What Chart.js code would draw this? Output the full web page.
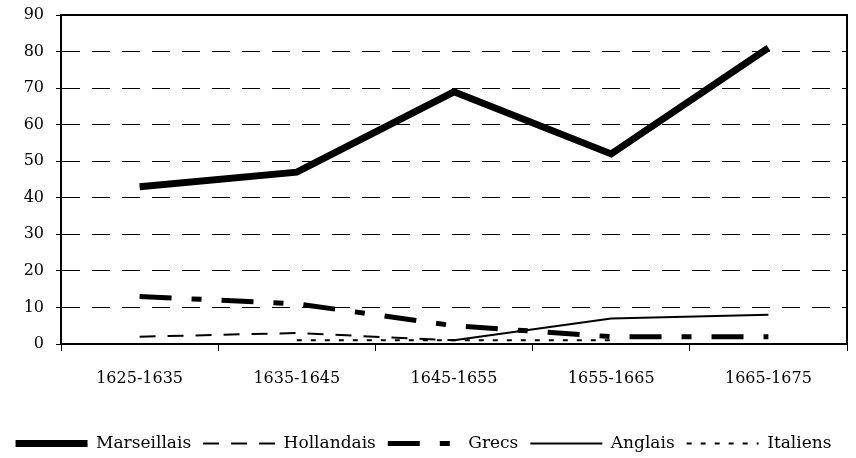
<!DOCTYPE html>
<html>
<head>
<meta charset="utf-8">
<script src="https://cdn.jsdelivr.net/npm/chart.js@4/dist/chart.umd.min.js"></script>
<style>
	html, body { margin: 0; padding: 0; background: #fff; }
	#wrap { width: 856px; height: 458px; }
</style>
</head>
<body>
<div id="wrap"><canvas id="navires"></canvas></div>
<script>
//Data
var periods = ['1625-1635', '1635-1645', '1645-1655', '1655-1665', '1665-1675'];
var marseillais = [43, 47, 69, 52, 81];
var hollandais = [2, 3, 1, null, null];
var grecs = [13, 11, 5, 2, 2];
var anglais = [null, null, 1, 7, 8];
var italiens = [null, 1, 1, 1, null];

//Get HTML
var navires_graph = document.getElementById('navires');

//Frame around the plot (solid)
var framePlugin = {
	id: 'frame',
	afterDatasetsDraw: function(chart) {
		var a = chart.chartArea;
		var ctx = chart.ctx;
		ctx.save();
		ctx.strokeStyle = '#000';
		ctx.lineWidth = 2;
		ctx.setLineDash([]);
		ctx.beginPath();
		ctx.moveTo(a.left, a.bottom);
		ctx.lineTo(a.left, a.top);
		ctx.lineTo(a.right, a.top);
		ctx.lineTo(a.right, a.bottom);
		ctx.lineTo(a.left, a.bottom);
		ctx.stroke();
		ctx.restore();
	}
};

function serie(label, data, width, dash) {
	return {
		label: label,
		data: data,
		borderColor: '#000',
		backgroundColor: '#000',
		borderWidth: width,
		borderDash: dash,
		pointRadius: 0,
		pointHoverRadius: 0,
		tension: 0,
		fill: false
	};
}

//Legend items keep the dash of their line
function legendLabels(chart) {
	var items = Chart.defaults.plugins.legend.labels.generateLabels(chart);
	items.forEach(function(item) {
		var ds = chart.data.datasets[item.datasetIndex];
		item.lineDash = ds.borderDash;
		item.lineWidth = ds.borderWidth;
	});
	return items;
}

//Render chart
var navireschart = new Chart(navires_graph, {
	type: 'line',
	data: {
		labels: periods,
		datasets: [
			serie('Marseillais', marseillais, 7, []),
			serie('Hollandais', hollandais, 2, [16, 12]),
			serie('Grecs', grecs, 5, [32, 20, 10, 20]),
			serie('Anglais', anglais, 2, []),
			serie('Italiens', italiens, 2, [5, 9])
		]
	},
	options: {
		responsive: true,
		maintainAspectRatio: false,
		animation: false,
		layout: {
			padding: { top: 15, right: 9, left: 0, bottom: -4 }
		},
		scales: {
			x: {
				offset: true,
				afterFit: function(s) { s.height = 79; },
				border: { display: true, color: '#000', width: 2 },
				grid: {
					offset: true,
					drawOnChartArea: false,
					drawTicks: true,
					tickLength: 7,
					color: '#000'
				},
				ticks: {
					color: '#000',
					padding: 18,
					maxRotation: 0,
					font: { family: 'DejaVu Serif', size: 16 }
				}
			},
			y: {
				min: 0,
				max: 90,
				afterFit: function(s) {
					s.width = 61;
					s.paddingTop = 0;
					s.paddingBottom = 0;
				},
				border: { display: true, color: '#000', width: 2, dash: [18, 12] },
				grid: {
					color: '#000',
					lineWidth: 1,
					tickLength: 5,
					tickBorderDash: []
				},
				ticks: {
					stepSize: 10,
					color: '#000',
					padding: 12,
					font: { family: 'DejaVu Serif', size: 16 }
				}
			}
		},
		plugins: {
			tooltip: { enabled: false },
			legend: {
				position: 'bottom',
				labels: {
					color: '#000',
					usePointStyle: true,
					pointStyle: 'line',
					pointStyleWidth: 72,
					padding: 12,
					font: { family: 'DejaVu Serif', size: 17 },
					generateLabels: legendLabels
				}
			}
		}
	},
	plugins: [framePlugin]
});
</script>
</body>
</html>
